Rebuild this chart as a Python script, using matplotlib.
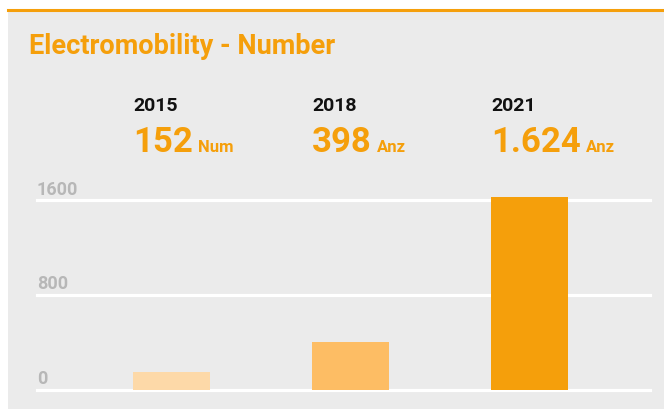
import matplotlib.pyplot as plt
import matplotlib.transforms as mtransforms
from matplotlib.patches import Rectangle
from matplotlib.lines import Line2D

plt.rcParams['font.family'] = ['Roboto', 'DejaVu Sans']

years = ["2015", "2018", "2021"]
values = [152, 398, 1624]
value_labels = ["152", "398", "1.624"]
units = ["Num", "Anz", "Anz"]
bar_colors = ["#fdd9a8", "#fdbd64", "#f59f0b"]
yticks = [0, 800, 1600]

orange = "#f59f0b"
panel = "#ebebeb"

fig = plt.figure(figsize=(6.64, 4.10), dpi=100)
fig.patch.set_facecolor("white")

# grey panel and orange top rule
fig.patches.append(Rectangle((8 / 664, 0), 1, 398 / 410, transform=fig.transFigure,
                             facecolor=panel, edgecolor="none", zorder=-2))
fig.lines.append(Line2D([8 / 664, 1], [399.5 / 410, 399.5 / 410], transform=fig.transFigure,
                        color=orange, lw=2.2, zorder=-1))

fig.text(29 / 664, 356 / 410, "Electromobility - Number", color=orange,
         fontsize=19.5, fontweight="bold", ha="left", va="baseline")

ax = fig.add_axes([37 / 664, 19.5 / 410, 613 / 664, 201 / 410])
ax.set_facecolor("none")
x = range(len(values))
ax.bar(x, values, width=0.43, color=bar_colors, zorder=3)
ax.set_xlim(-0.751, 2.673)
ax.set_ylim(0, 1700)
for v in yticks:
    ax.axhline(v, color="white", lw=2.3, zorder=2, clip_on=False)
    ax.annotate(str(v), xy=(0, v), xycoords=ax.get_yaxis_transform(),
                xytext=(0, 2), textcoords="offset points", ha="left", va="bottom",
                color="#b7b7b7", fontsize=13, fontweight="bold")
for s in ax.spines.values():
    s.set_visible(False)
ax.set_xticks([])
ax.set_yticks([])

# headers above the bars
trans = mtransforms.blended_transform_factory(ax.transData, fig.transFigure)
for i, (yr, lab, un) in enumerate(zip(years, value_labels, units)):
    left = i - 0.43 / 2
    fig.text(left, 299 / 410, yr, transform=trans, color="#111111",
             fontsize=14, fontweight="bold", ha="left", va="baseline")
    num = fig.text(left, 258 / 410, lab, transform=trans, color=orange,
                   fontsize=25, fontweight="bold", ha="left", va="baseline")
    ax.annotate(un, xy=(1, 258 / 410), xycoords=(num, fig.transFigure),
                xytext=(3.5, 0), textcoords="offset points", ha="left", va="baseline",
                color=orange, fontsize=12, fontweight="bold", annotation_clip=False)

fig.savefig("out.png", dpi=100)
